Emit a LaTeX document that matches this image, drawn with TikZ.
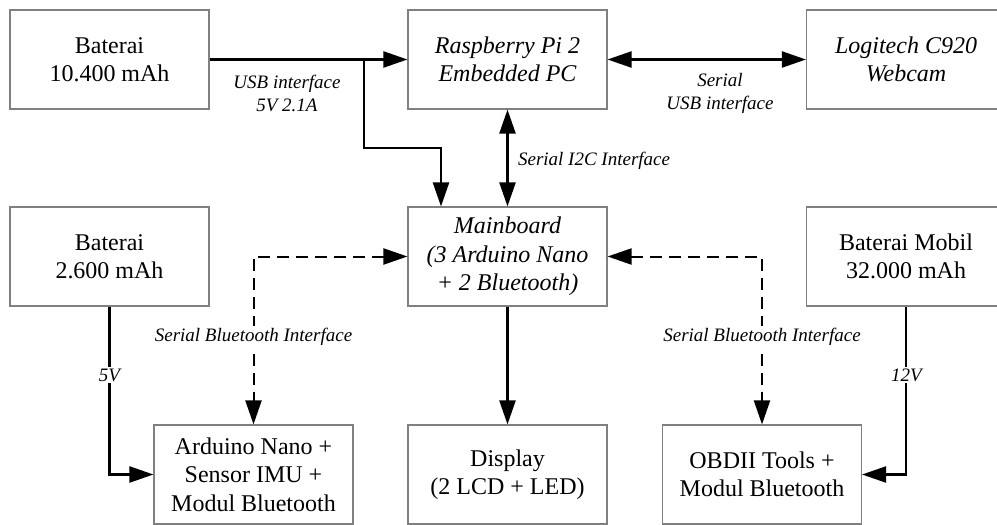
\documentclass[tikz,border=0pt]{standalone}
\usepackage{fontspec}
\setmainfont{Liberation Serif}
\usetikzlibrary{arrows.meta}

\begin{document}
\begin{tikzpicture}[x=1pt,y=-1pt,>={Triangle[length=24pt,width=16pt]},
    line width=2.2pt,
    block/.style={draw=gray,line width=1.1pt,minimum width=199pt,
      minimum height=99pt,inner sep=0pt,align=center,
      font=\fontsize{24}{28.5}\selectfont},
    iblock/.style={block,font=\fontsize{24}{28.5}\selectfont\itshape},
    lbl/.style={align=center,inner sep=2pt,
      font=\fontsize{19}{23}\selectfont\itshape},
    onlbl/.style={lbl,fill=white},
    bt/.style={dash pattern=on 12pt off 7pt,line width=2pt}]
  \useasboundingbox (0,0) rectangle (997,525);
  \clip (0,0) rectangle (997,525);
  \node[block] (bat1) at (109.5,59.5) {Baterai\\10.400 mAh};
  \node[iblock] (rpi) [right of=bat1,node distance=398pt] {Raspberry Pi 2\\Embedded PC};
  \node[iblock] (cam) [right of=rpi,node distance=398.5pt] {Logitech C920\\Webcam};
  \node[block] (bat2) [below of=bat1,node distance=197pt] {Baterai\\2.600 mAh};
  \node[iblock] (main) [below of=rpi,node distance=197pt] {Mainboard\\(3 Arduino Nano\\+ 2 Bluetooth)};
  \node[block] (batcar) [below of=cam,node distance=197pt] {Baterai Mobil\\32.000 mAh};
  \node[block] (ard) at (253.5,474.5) {Arduino Nano +\\Sensor IMU +\\Modul Bluetooth};
  \node[block] (disp) [below of=main,node distance=218pt] {Display\\(2 LCD + LED)};
  \node[block] (obd) at (762,474.5) {OBDII Tools +\\Modul Bluetooth};
  \coordinate (usbsplit) at (364,59.5);
  \coordinate (usbbend) at (441,148);

  % power and data lines
  \draw[->] (bat1) -- (rpi);
  \draw[->] (usbsplit) |- (usbbend) -- (usbbend |- main.north);
  \draw[<->] (rpi) -- (cam);
  \draw[<->] (rpi) -- (main);
  \draw[->] (main) -- (disp);
  \draw[->] (bat2.south) |- (ard.west);
  \draw[->] (batcar.south) |- (obd.east);
  \draw[<->,bt] (main.west) -| (ard.north);
  \draw[<->,bt] (main.east) -| (obd.north);

  \node[lbl] (usblbl) at (287,93) {USB interface\\5V 2.1A};
  \node[lbl] (serlbl) at (720,93) {Serial\\USB interface};
  \node[lbl,anchor=west] (i2clbl) at (515,161) {Serial I2C Interface};
  \node[onlbl] (btleft) at (253.5,337) {Serial Bluetooth Interface};
  \node[onlbl] (btright) at (762,337) {Serial Bluetooth Interface};
  \node[onlbl] (v5) at (109.5,375) {5V};
  \node[onlbl] (v12) at (906.5,375) {12V};
\end{tikzpicture}
\end{document}
